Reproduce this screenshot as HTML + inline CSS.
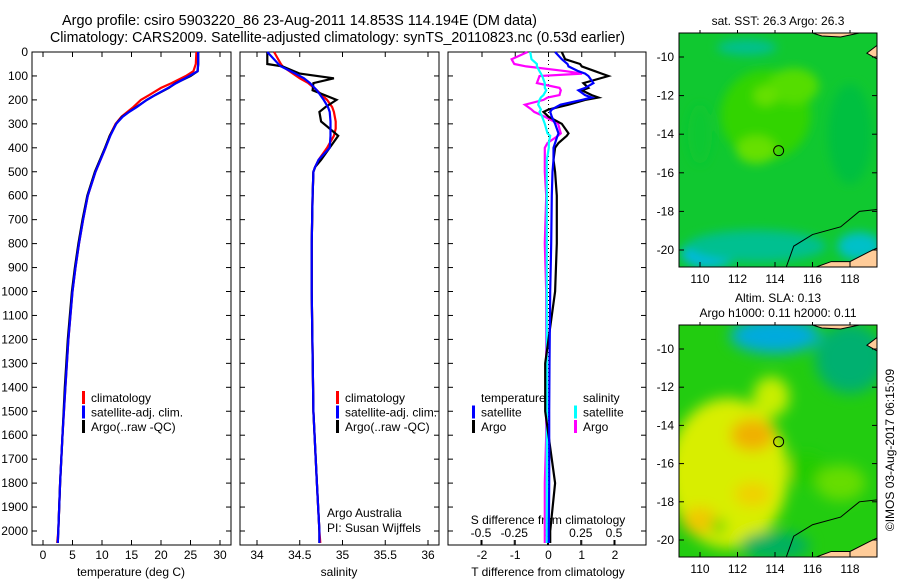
<!DOCTYPE html>
<html><head><meta charset="utf-8">
<style>
html,body{margin:0;padding:0;background:#fff;}
svg{display:block;font-family:"Liberation Sans",sans-serif;}
text{fill:#000;}
</style></head>
<body>
<svg id="chart" width="900" height="580" viewBox="0 0 900 580" xmlns="http://www.w3.org/2000/svg">
<text x="62" y="25" font-size="14.5" textLength="475" lengthAdjust="spacingAndGlyphs">Argo profile: csiro 5903220_86 23-Aug-2011 14.853S 114.194E (DM data)</text>
<text x="50" y="42" font-size="14.5" textLength="575" lengthAdjust="spacingAndGlyphs">Climatology: CARS2009. Satellite-adjusted climatology: synTS_20110823.nc (0.53d earlier)</text>
<g id="plots"></g>
<text transform="translate(894,450) rotate(-90)" font-size="12" text-anchor="middle">©IMOS 03-Aug-2017 06:15:09</text>
</svg>
<script>
// ---- data ----
const tDepth = [0,50,80,100,130,150,180,200,230,250,270,300,350,400,500,600,700,800,900,1000,1200,1400,1600,1800,2000,2050];
const tArgo  = [26.3,26.3,26.2,25.0,22.5,21.3,19.0,17.6,15.8,14.6,13.4,12.4,11.3,10.5,8.8,7.5,6.7,6.0,5.4,4.9,4.2,3.7,3.3,2.9,2.6,2.5];
const tClim  = [26.0,25.9,25.5,24.2,21.8,20.0,18.0,16.6,15.3,14.3,13.3,12.3,11.3,10.6,8.9,7.6,6.8,6.1,5.5,5.0,4.3,3.8,3.3,2.9,2.6,2.4];
const tSat   = [26.3,26.3,26.2,24.8,22.6,21.2,19.0,17.6,15.9,14.6,13.5,12.4,11.4,10.6,8.9,7.6,6.8,6.1,5.5,5.0,4.3,3.8,3.3,2.9,2.6,2.5];
const sDepth = [0,50,60,90,110,130,160,200,230,250,290,320,350,400,450,480,500,600,800,1000,1500,1800,2000,2050];
const sArgo  = [34.12,34.12,34.3,34.5,34.9,34.66,34.65,34.93,34.8,34.73,34.75,34.85,34.95,34.85,34.75,34.68,34.66,34.65,34.64,34.64,34.66,34.7,34.73,34.73];
const sClim  = [34.2,34.28,34.3,34.42,34.5,34.6,34.7,34.82,34.88,34.9,34.92,34.92,34.9,34.82,34.72,34.68,34.66,34.65,34.64,34.64,34.66,34.7,34.73,34.74];
const sSat   = [34.12,34.25,34.28,34.45,34.55,34.62,34.7,34.78,34.83,34.85,34.86,34.86,34.86,34.85,34.72,34.68,34.66,34.65,34.64,34.64,34.66,34.7,34.73,34.73];
const dDepth = [0,30,50,60,80,90,100,130,150,160,180,190,200,220,240,250,270,300,340,350,380,400,450,500,600,800,1000,1300,1500,1600,1800,2000,2050];
const dTsat  = [0.2,0.4,0.57,0.6,0.9,1.1,1.2,1.35,1.1,0.9,1.1,1.3,1.0,0.36,0.1,0.05,0.1,0.2,0.3,0.27,0.2,0.15,0.15,0.12,0.1,0.08,0.05,0.03,0.02,0.02,0.02,0.01,0.01];
const dTargo = [0.4,0.5,0.95,1.0,1.4,1.6,1.8,1.05,1.2,1.0,1.3,1.5,1.1,0.6,0.0,-0.15,0.0,0.4,0.6,0.55,0.3,0.2,0.15,0.2,0.25,0.25,0.2,-0.1,-0.1,0.0,0.2,0.05,0.05];
const dSsat  = [-0.13,-0.12,-0.08,-0.08,-0.06,-0.05,-0.04,-0.02,-0.02,-0.01,-0.03,-0.05,-0.06,-0.07,-0.05,-0.06,-0.04,-0.02,0.0,0.02,0.01,0.01,-0.005,-0.005,-0.005,-0.005,-0.005,-0.005,-0.005,-0.005,-0.005,-0.005,-0.005];
const dSargo = [-0.15,-0.27,-0.25,-0.16,0.14,0.26,-0.06,-0.08,0.09,0.1,0.09,0.0,-0.03,-0.17,-0.12,-0.1,-0.02,0.08,0.1,0.08,0.0,-0.02,-0.02,-0.02,-0.01,-0.02,-0.01,-0.01,-0.01,-0.01,-0.02,-0.02,-0.02];
const depthTicks = [0,100,200,300,400,500,600,700,800,900,1000,1100,1200,1300,1400,1500,1600,1700,1800,1900,2000];
const tempTicks = [0,5,10,15,20,25,30];
const salTicks = [34,34.5,35,35.5,36];
const salTickLabels = ["34","34.5","35","35.5","36"];
const tdTicks = [-2,-1,0,1,2];
const sdTicks = [-0.5,-0.25,0,0.25,0.5];
const sdTickLabels = ["-0.5","-0.25","0","0.25","0.5"];
const latTicks = [-10,-12,-14,-16,-18,-20];
const lonTicks = [110,112,114,116,118];
const floatLon = 114.194, floatLat = -14.853;

const NS="http://www.w3.org/2000/svg";
const root=document.getElementById('plots');
function mk(tag,attrs,parent){const e=document.createElementNS(NS,tag);for(const k in attrs)e.setAttribute(k,attrs[k]);(parent||root).appendChild(e);return e;}
function txt(s,x,y,size,anchor,parent){const e=mk('text',{x:x,y:y,'font-size':size,'text-anchor':anchor||'start'},parent);e.textContent=s;return e;}

const PT=52, PB=545;
const yD = d => 52 + d*0.2395;
function xLin(v0,p0,v1,p1){return v=>p0+(v-v0)*(p1-p0)/(v1-v0);}
const xT = xLin(0,43,30,220);
const xS = xLin(34,257,36,428);
const xTd = xLin(-2,482,2,615);
const xSd = xLin(-0.5,481,0.5,614);

function frame(x0,x1,name){
  const r=mk('rect',{x:x0,y:PT,width:x1-x0,height:PB-PT,fill:'none',stroke:'#000','stroke-width':1});
  
  
}
function line(xs,ds,xf,color,name){
  const p=ds.map((d,i)=>(i?'L':'M')+xf(xs[i]).toFixed(1)+','+yD(d).toFixed(1)).join('');
  const e=mk('path',{d:p,fill:'none',stroke:color,'stroke-width':2.2});
  
  
}
function legend(items,x,y,name){
  const g=mk('g',{});
  
  
  items.forEach((it,i)=>{
    if(it[1]) mk('rect',{x:x,y:y+i*14.5-11,width:3,height:13,fill:it[1]},g);
    txt(it[0],x+9,y+i*14.5,12,'start',g);
  });
}

frame(32,231,'temperature-panel');
frame(240,439,'salinity-panel');
frame(448,646,'difference-panel');

const yax=mk('g',{});


depthTicks.forEach(d=>{
  const y=yD(d);
  txt(String(d),28,y+4,12,'end',yax);
  [[32,1],[231,-1],[240,1],[439,-1],[448,1],[646,-1]].forEach(([x,s])=>mk('line',{x1:x,x2:x+5*s,y1:y,y2:y,stroke:'#000'},yax));
});
function xaxis(ticks,labels,xf,ly,name,top){
  const g=mk('g',{});
  
  
  ticks.forEach((v,i)=>{
    const x=xf(v);
    mk('line',{x1:x,x2:x,y1:PB,y2:PB-5,stroke:'#000'},g);
    if(top) mk('line',{x1:x,x2:x,y1:PT,y2:PT+5,stroke:'#000'},g);
    txt(labels[i],x,ly,12,'middle',g);
  });
}
xaxis(tempTicks,tempTicks.map(String),xT,559,'temperature-axis',true);
xaxis(salTicks,salTickLabels,xS,559,'salinity-axis',true);
xaxis(tdTicks,tdTicks.map(String),xTd,559,'t-difference-axis',true);
xaxis(sdTicks,sdTickLabels,xSd,537,'s-difference-axis',false);
txt('temperature (deg C)',131,576,12,'middle');
txt('salinity',339,576,12,'middle');
txt('T difference from climatology',548,576,12,'middle');
txt('S difference from climatology',548,524,12,'middle');

mk('line',{x1:xTd(0),x2:xTd(0),y1:PT,y2:PB,stroke:'#000','stroke-dasharray':'1,3'});

line(tClim,tDepth,xT,'#f00','temp-climatology-line');
line(tArgo,tDepth,xT,'#000','temp-argo-line');
line(tSat,tDepth,xT,'#00f','temp-satellite-line');
line(sClim,sDepth,xS,'#f00','sal-climatology-line');
line(sArgo,sDepth,xS,'#000','sal-argo-line');
line(sSat,sDepth,xS,'#00f','sal-satellite-line');
line(dSargo,dDepth,xSd,'#f0f','sdiff-argo-line');
line(dSsat,dDepth,xSd,'#0ff','sdiff-satellite-line');
line(dTargo,dDepth,xTd,'#000','tdiff-argo-line');
line(dTsat,dDepth,xTd,'#00f','tdiff-satellite-line');

legend([['climatology','#f00'],['satellite-adj. clim.','#00f'],['Argo(..raw -QC)','#000']],82,402,'temperature-legend');
legend([['climatology','#f00'],['satellite-adj. clim.','#00f'],['Argo(..raw -QC)','#000']],336,402,'salinity-legend');
legend([['temperature',null],['satellite','#00f'],['Argo','#000']],472,402,'t-diff-legend');
legend([['salinity',null],['satellite','#0ff'],['Argo','#f0f']],574,402,'s-diff-legend');
txt('Argo Australia',327,517,12);
txt('PI: Susan Wijffels',327,532,12);

function mapPanel(top,bottom,name,blobs,base){
  const L=679,R=877;
  const lonF=xLin(110,700,118,850);
  const latF=xLin(-10,top+24,-20,bottom-17);
  const g=mk('g',{});
  
  
  const cid='clip'+top;
  const cp=mk('clipPath',{id:cid},g); mk('rect',{x:L,y:top,width:R-L,height:bottom-top},cp);
  const fid='blur'+top;
  const f=mk('filter',{id:fid,x:'-50%',y:'-50%',width:'200%',height:'200%'},g);
  mk('feGaussianBlur',{stdDeviation:base.blur},f);
  const inner=mk('g',{'clip-path':'url(#'+cid+')'},g);
  mk('rect',{x:L,y:top,width:R-L,height:bottom-top,fill:base.color},inner);
  const bg=mk('g',{filter:'url(#'+fid+')'},inner);
  blobs.forEach(b=>mk('ellipse',{cx:lonF(b[0]),cy:latF(b[1]),rx:b[2],ry:b[3],fill:b[4]},bg));
  mk('path',{d:`M${lonF(114.6)},${bottom} L${lonF(115)},${latF(-19.8)} L${lonF(116)},${latF(-19.2)} L${lonF(117.5)},${latF(-18.8)} L${lonF(118.5)},${latF(-18.0)} L${R},${latF(-17.9)}`,fill:'none',stroke:'#000','stroke-width':1},inner);
  mk('path',{d:`M${lonF(116.2)},${bottom} L${lonF(117)},${latF(-20.6)} L${lonF(118)},${latF(-20.6)} L${lonF(119)},${latF(-20.1)} L${R},${latF(-19.9)} L${R},${bottom} Z`,fill:'#fc9',stroke:'#000'},inner);
  mk('path',{d:`M${lonF(116)},${top} L${lonF(116.5)},${top+3} L${lonF(117.5)},${top+4} L${lonF(118.5)},${top} Z`,fill:'#fc9',stroke:'#000'},inner);
  mk('path',{d:`M${R},${latF(-9.4)} L${lonF(118.9)},${latF(-9.8)} L${R},${latF(-10.1)} Z`,fill:'#fc9',stroke:'#000'},inner);
  mk('rect',{x:L,y:top,width:R-L,height:bottom-top,fill:'none',stroke:'#000'},g);
  latTicks.forEach(v=>{const y=latF(v);mk('line',{x1:L,x2:L+5,y1:y,y2:y,stroke:'#000'},g);mk('line',{x1:R,x2:R-5,y1:y,y2:y,stroke:'#000'},g);txt(String(v),L-5,y+4,12,'end',g);});
  lonTicks.forEach(v=>{const x=lonF(v);mk('line',{x1:x,x2:x,y1:bottom,y2:bottom-5,stroke:'#000'},g);mk('line',{x1:x,x2:x,y1:top,y2:top-3,stroke:'#000'},g);txt(String(v),x,bottom+16,12,'middle',g);});
  mk('circle',{cx:lonF(floatLon),cy:latF(floatLat),r:5,fill:'none',stroke:'#000'},g);
}
mapPanel(33,267,'sst-map',[
  [113.5,-13,45,45,'#33d400'],[113,-14.8,20,14,'#66e000'],[115,-11.5,25,18,'#55dd00'],[113.5,-12,12,10,'#66e000'],
  [110.5,-20.2,28,14,'#00b8e8'],[113,-19.8,70,16,'#00c090'],[112.5,-9.5,30,8,'#00c090'],[118.5,-19.8,22,14,'#00c0c8'],
  [118,-14,22,50,'#00c040'],[110,-14,12,30,'#10c830']
],{color:'#10c830',blur:5});
mapPanel(325,557,'sla-map',[
  [111.5,-16.5,60,75,'#d8ee00'],[113.8,-12.5,18,20,'#c8ee00'],[112.8,-14.5,22,16,'#f0b000'],[110,-19,18,14,'#f0c800'],[112.8,-17.6,18,12,'#f0d000'],
  [114,-9.3,45,18,'#00aadd'],[118,-10.5,35,35,'#00b070'],[114,-20.3,35,14,'#00b060'],[115.7,-16.3,18,16,'#22cc00'],
  [111,-19.3,8,8,'#66dd00'],[117.5,-17,25,18,'#66dd00']
],{color:'#22cc10',blur:7});
txt('sat. SST: 26.3 Argo: 26.3',778,25,12,'middle');
txt('Altim. SLA: 0.13',778,302,12,'middle');
txt('Argo h1000: 0.11 h2000: 0.11',778,317,12,'middle');
</script>
</body></html>
